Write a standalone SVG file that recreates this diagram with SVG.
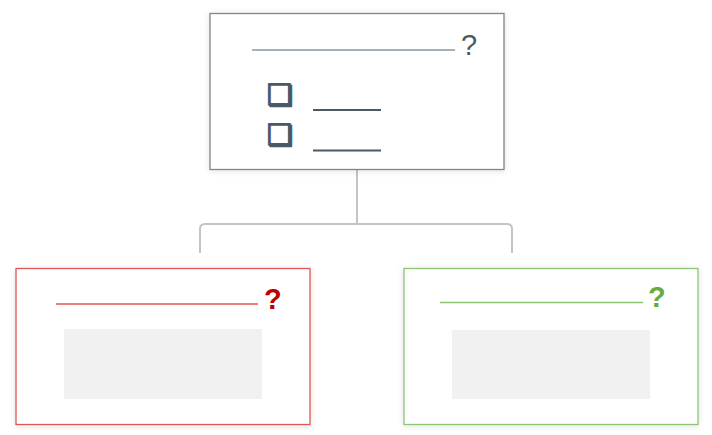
<svg xmlns="http://www.w3.org/2000/svg" width="712" height="435" viewBox="0 0 712 435">
<style>
.box{fill:#fff;stroke-width:1.3;filter:url(#sh)}
.q{font-family:"Liberation Sans",Arial,sans-serif;font-size:29px}
.cb{font-family:"DejaVu Sans",sans-serif;font-size:29px;fill:#4a5a64;stroke:#4a5a64;stroke-width:1.6;stroke-linejoin:round}
.conn{fill:none;stroke:#c4c4c4;stroke-width:2}
.ph{fill:#f1f1f1}
</style>
<defs>
<filter id="sh" x="-10%" y="-10%" width="120%" height="120%">
<feDropShadow dx="0" dy="1" stdDeviation="3" flood-color="#000" flood-opacity="0.12"/>
</filter>
</defs>
<g id="connectors">
<path class="conn" d="M357 169 V224"/>
<path class="conn" d="M200 253 V229 Q200 224 205 224 H507 Q512 224 512 229 V253"/>
</g>
<g id="top">
<rect class="box" x="210" y="13.5" width="294" height="156" stroke="#7a8690"/>
<line x1="252" y1="50" x2="455" y2="50" stroke="#8a969e" stroke-width="1.5"/>
<text class="q" x="461" y="55" fill="#4a5a64">?</text>
<text class="cb" x="267" y="105">❏</text>
<text class="cb" x="267" y="145">❏</text>
<line x1="313" y1="110" x2="381" y2="110" stroke="#4a5a64" stroke-width="2"/>
<line x1="313" y1="150.5" x2="381" y2="150.5" stroke="#4a5a64" stroke-width="2"/>
</g>
<g id="left">
<rect class="box" x="16" y="268.5" width="294" height="156" stroke="#e05555"/>
<line x1="56" y1="304" x2="258" y2="304" stroke="#e05555" stroke-width="1.5"/>
<text class="q" x="264" y="309" fill="#c00000" font-weight="bold">?</text>
<rect class="ph" x="64" y="329" width="198" height="70"/>
</g>
<g id="right">
<rect class="box" x="404" y="268.5" width="294" height="156" stroke="#8cc474"/>
<line x1="440" y1="302.5" x2="643" y2="302.5" stroke="#8cc474" stroke-width="1.5"/>
<text class="q" x="648" y="307" fill="#6aaa44" font-weight="bold">?</text>
<rect class="ph" x="452" y="330" width="198" height="69"/>
</g>
</svg>
